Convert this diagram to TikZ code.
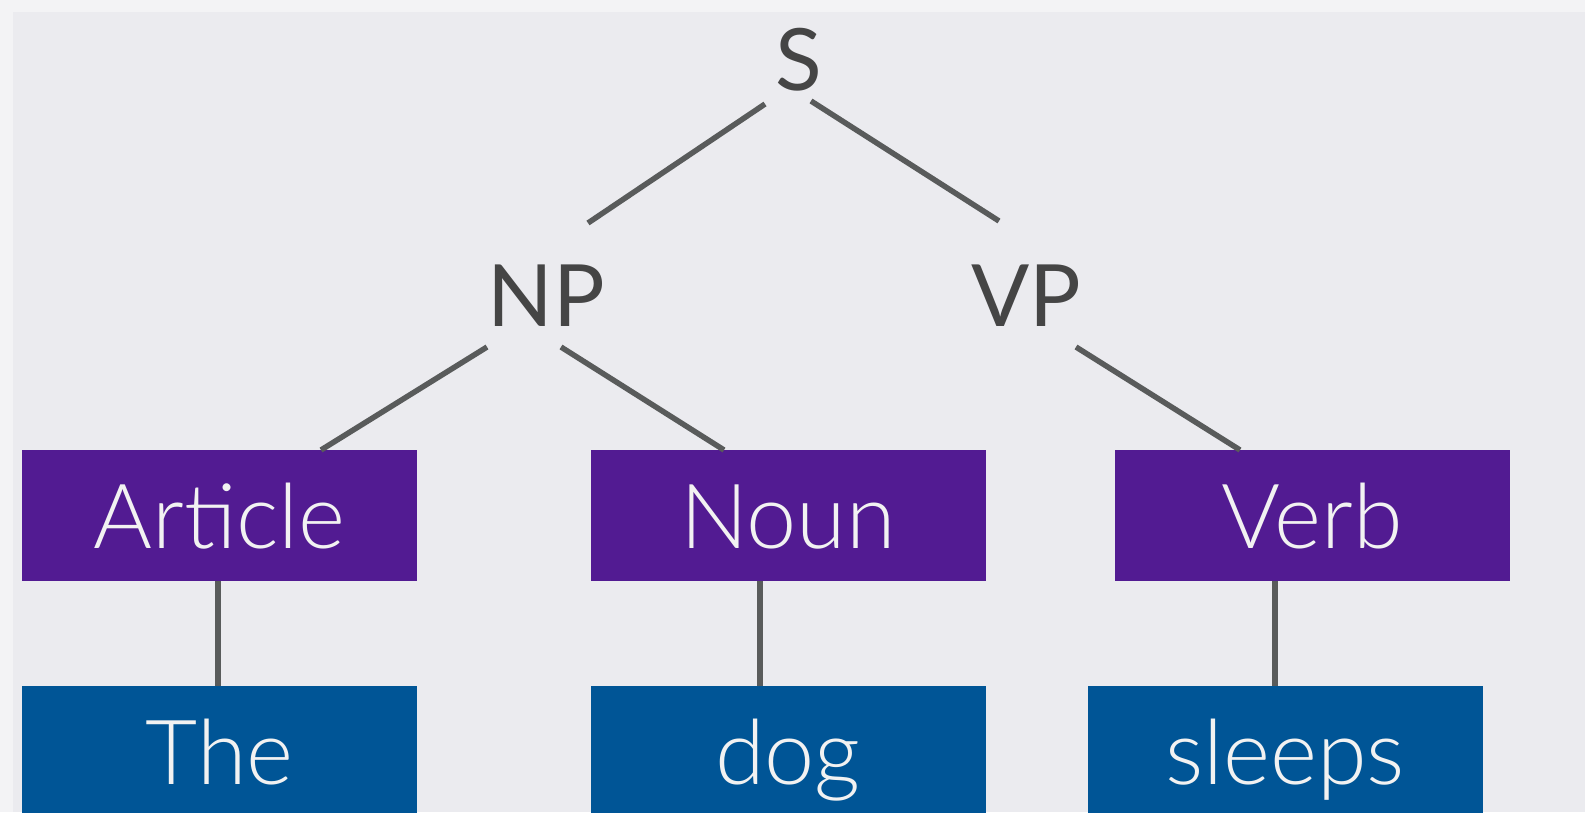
\documentclass[tikz,border=0pt]{standalone}
\usepackage{fontspec}
\setmainfont{Lato Light}
\newfontfamily\catfont{Lato}
\usetikzlibrary{calc}
\definecolor{bgc}{HTML}{EBEBEF}
\definecolor{bgl}{HTML}{F3F3F5}
\definecolor{purp}{HTML}{521B92}
\definecolor{blu}{HTML}{005596}
\definecolor{edgec}{HTML}{595B5B}
\definecolor{labc}{HTML}{454545}
\definecolor{boxtxt}{HTML}{F2F2F2}
\begin{document}
\begin{tikzpicture}[x=1pt,y=-1pt,
  cat/.style={inner sep=0pt,text height=61pt,text depth=0pt,text=labc,font=\catfont\fontsize{86}{92}\selectfont},
  pbox/.style={fill=purp,inner sep=0pt,minimum width=395pt,minimum height=131pt,text height=65pt,text depth=0pt,text=boxtxt,font=\fontsize{90}{96}\selectfont},
  bbox/.style={pbox,fill=blu},
  edge/.style={draw=edgec,line width=5.5pt}]
\useasboundingbox (0,0) rectangle (1585,812);
\fill[bgl] (0,0) rectangle (1585,812);
\fill[bgc] (13,12) rectangle (1585,812);
\node[cat] (S) at (799,60) {S};
\node[cat] (NP) at (546,296) {NP};
\node[cat] (VP) at (1026,296) {VP};
\node[pbox] (Art) at (219.5,515.5) {Article};
\node[pbox] (Noun) at (788,515.5) {Noun};
\node[pbox] (Verb) at (1312,515.5) {Verb};
\node[bbox] (The) at (219.5,751.5) {The};
\node[bbox] (dog) at (788,751.5) {dog};
\node[bbox] (sleeps) at (1285,751.5) {sleeps};
\draw[edge] ($(S.center)+(-34,44)$) -- ($(NP.center)+(42,-73)$);
\draw[edge] ($(S.center)+(12,41)$) -- ($(VP.center)+(-27,-75)$);
\draw[edge] ($(NP.center)+(-59,51)$) -- ($(Art.center)+(101.5,-65.5)$);
\draw[edge] ($(NP.center)+(15,51)$) -- ($(Noun.center)+(-64,-65.5)$);
\draw[edge] ($(VP.center)+(50,51)$) -- ($(Verb.center)+(-72,-65.5)$);
\draw[edge] ($(Art.south)+(-1.5,0)$) -- ($(The.north)+(-1.5,0)$);
\draw[edge] ($(Noun.south)+(-28,0)$) -- ($(dog.north)+(-28,0)$);
\draw[edge] ($(Verb.south)+(-37,0)$) -- ($(sleeps.north)+(-10,0)$);
\end{tikzpicture}
\end{document}
